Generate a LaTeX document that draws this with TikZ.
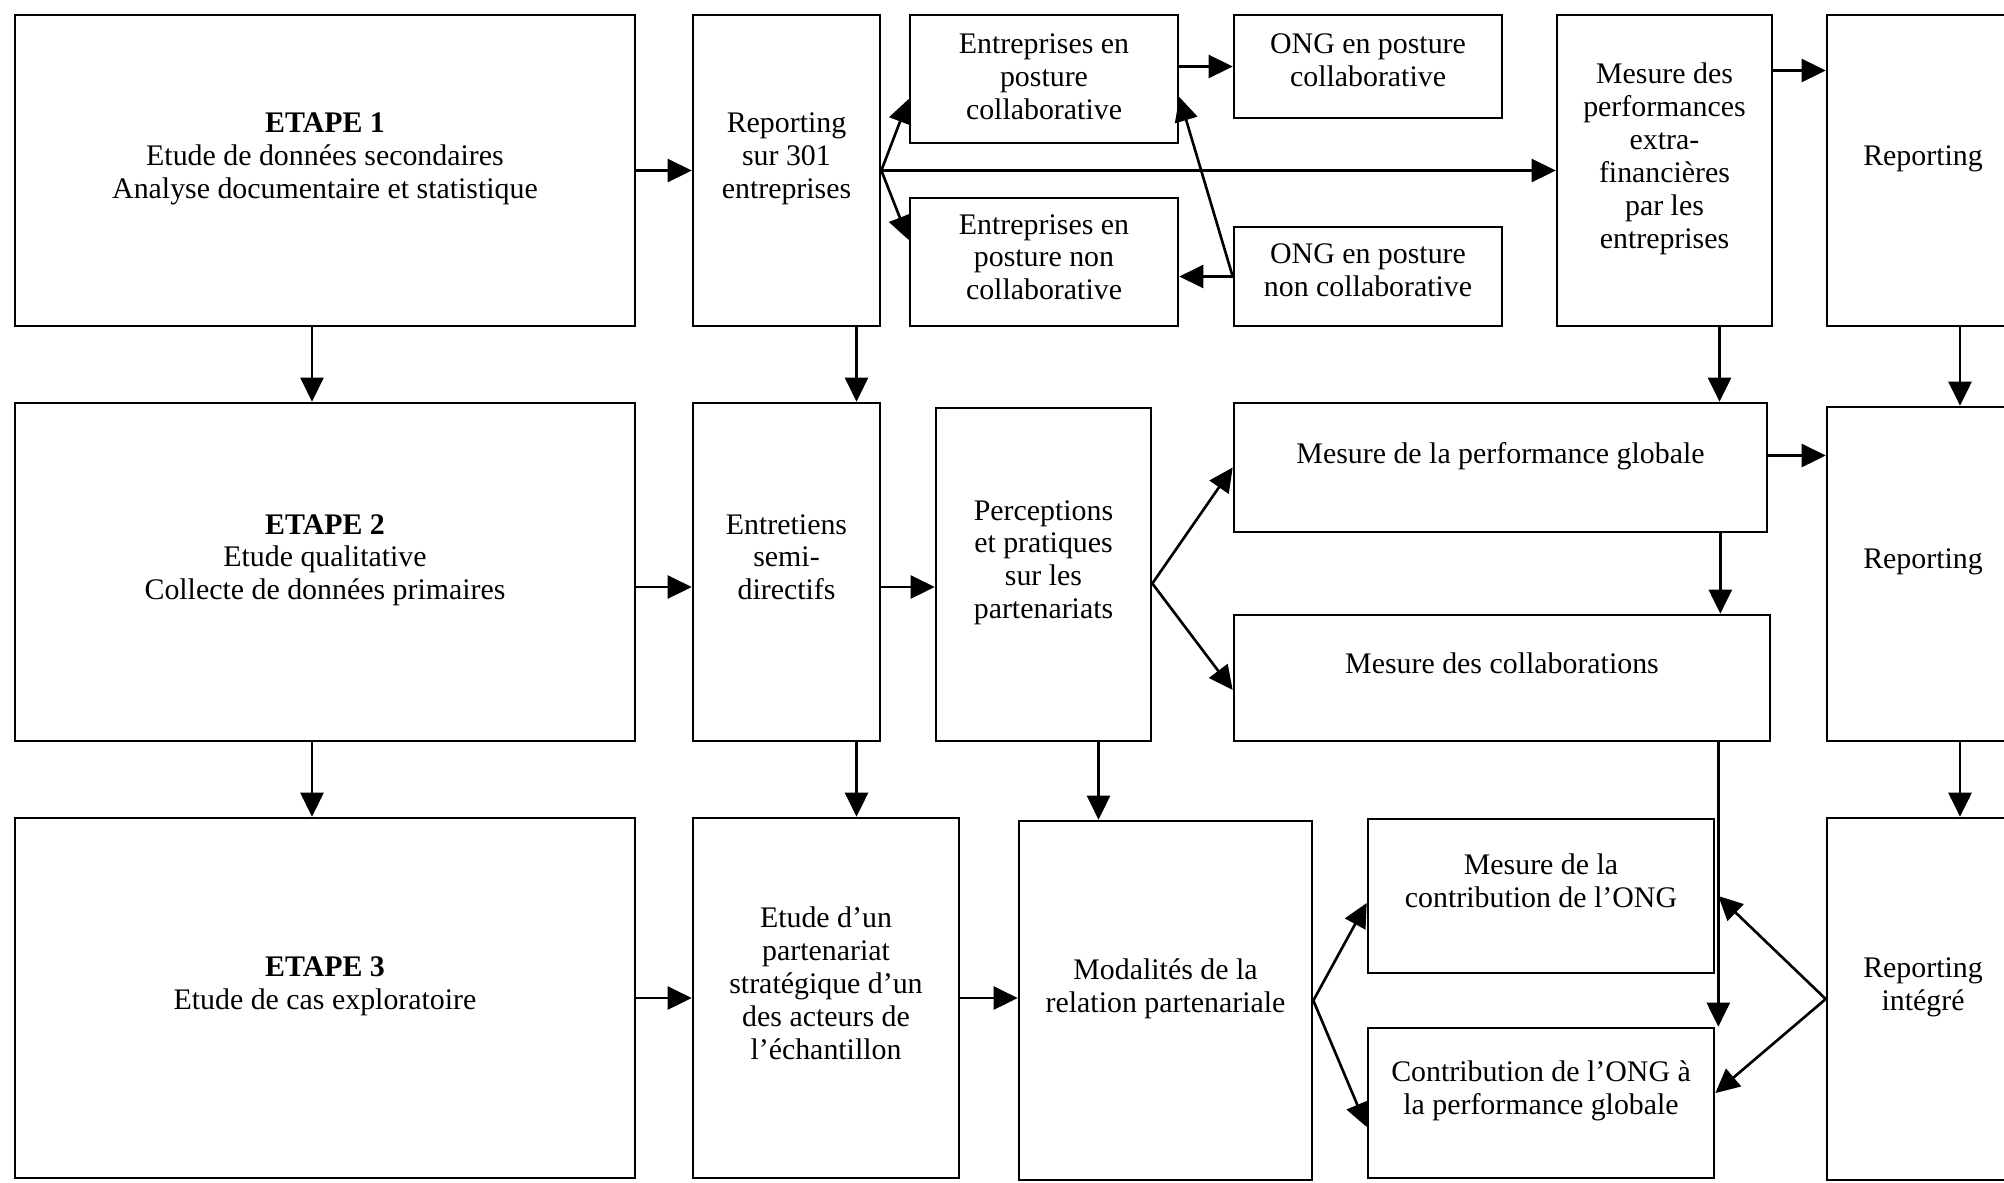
\documentclass[tikz,border=0pt]{standalone}
\usepackage{fontspec}
\setmainfont{Liberation Serif}
\usetikzlibrary{arrows.meta}

\tikzset{
  boite/.style={draw, line width=0.75pt, align=center, inner sep=0pt,
    font=\fontsize{8.5}{9.35}\selectfont, execute at end node={\rule[-#1]{0pt}{0pt}}},
  boite/.default=3mm,
  fleche/.style={line width=0.75pt, -{Triangle[length=2.4mm,width=2.3mm]}}
}

\begin{document}
\begin{tikzpicture}

        \useasboundingbox (0,0) rectangle (20.04,11.82);
        \clip (0,0) rectangle (20.04,11.82);

        % Etape 1
        \node[boite, minimum width=6.2cm, minimum height=3.11cm] (E1) at (3.25,10.115)
            {\textbf{ETAPE 1}\\Etude de données secondaires\\Analyse documentaire et statistique};
        \node[boite, minimum width=1.87cm, minimum height=3.11cm] (Rep301) at (7.865,10.115)
            {Reporting\\sur 301\\entreprises};
        \node[boite=0.5mm, minimum width=2.68cm, minimum height=1.28cm] (EntC) at (10.44,11.03)
            {Entreprises en\\posture\\collaborative};
        \node[boite=1mm, minimum width=2.68cm, minimum height=1.28cm] (EntNC) at (10.44,9.20)
            {Entreprises en\\posture non\\collaborative};
        \node[boite=1.2mm, minimum width=2.68cm, minimum height=1.03cm] (ONGC) at (13.68,11.155)
            {ONG en posture\\collaborative};
        \node[boite=1.2mm, minimum width=2.68cm, minimum height=0.99cm] (ONGNC) at (13.68,9.055)
            {ONG en posture\\non collaborative};
        \node[boite, minimum width=2.15cm, minimum height=3.11cm] (MesPerf) at (16.645,10.115)
            {Mesure des\\performances\\extra-\\financières\\par les\\entreprises};
        \node[boite, minimum width=1.92cm, minimum height=3.11cm] (Rep1) at (19.23,10.115)
            {Reporting};

        % Etape 2
        \node[boite, minimum width=6.2cm, minimum height=3.38cm] (E2) at (3.25,6.10)
            {\textbf{ETAPE 2}\\Etude qualitative\\Collecte de données primaires};
        \node[boite, minimum width=1.87cm, minimum height=3.38cm] (Entretiens) at (7.865,6.10)
            {Entretiens\\semi-\\directifs};
        \node[boite, minimum width=2.15cm, minimum height=3.33cm] (Perceptions) at (10.435,6.075)
            {Perceptions\\et pratiques\\sur les\\partenariats};
        \node[boite, minimum width=5.33cm, minimum height=1.29cm] (MesPG) at (15.005,7.145)
            {Mesure de la performance globale};
        \node[boite, minimum width=5.36cm, minimum height=1.26cm] (MesColl) at (15.02,5.04)
            {Mesure des collaborations};
        \node[boite, minimum width=1.92cm, minimum height=3.34cm] (Rep2) at (19.23,6.08)
            {Reporting};

        % Etape 3
        \node[boite, minimum width=6.2cm, minimum height=3.60cm] (E3) at (3.25,1.84)
            {\textbf{ETAPE 3}\\Etude de cas exploratoire};
        \node[boite, minimum width=2.66cm, minimum height=3.60cm] (Etude) at (8.26,1.84)
            {Etude d’un\\partenariat\\stratégique d’un\\des acteurs de\\l’échantillon};
        \node[boite, minimum width=2.93cm, minimum height=3.59cm] (Modalites) at (11.655,1.815)
            {Modalités de la\\relation partenariale};
        \node[boite, minimum width=3.46cm, minimum height=1.54cm] (MesContrib) at (15.41,2.86)
            {Mesure de la\\contribution de l’ONG};
        \node[boite, minimum width=3.46cm, minimum height=1.50cm] (Contrib) at (15.41,0.79)
            {Contribution de l’ONG à\\la performance globale};
        \node[boite, minimum width=1.92cm, minimum height=3.62cm] (Rep3) at (19.23,1.83)
            {Reporting\\intégré};

        % fleches etape 1
        \draw[fleche] (E1) -- (Rep301);
        \draw[fleche] (Rep301.east) -- ([yshift=-2mm]EntC.west);
        \draw[fleche] (Rep301.east) -- ([yshift=2.2mm]EntNC.west);
        \draw[fleche] (Rep301) -- (MesPerf);
        \draw[fleche] (EntC.east |- ONGC.west) -- (ONGC.west);
        \draw[fleche] (ONGNC.west) -- (ONGNC.west -| EntNC.east);
        \draw[fleche] (ONGNC.west) -- ([yshift=-1.8mm]EntC.east);
        \draw[fleche] ([yshift=10mm]MesPerf.east) -- ([yshift=10mm]MesPerf.east -| Rep1.west);

        % fleches vers etape 2
        \draw[fleche] ([xshift=-1.3mm]E1.south) -- ([xshift=-1.3mm]E2.north);
        \draw[fleche] ([xshift=7mm]Rep301.south) -- ([xshift=7mm]Entretiens.north);
        \draw[fleche] ([xshift=5.5mm]MesPerf.south) -- ([xshift=5.5mm]MesPerf.south |- MesPG.north);
        \draw[fleche] ([xshift=3.7mm]Rep1.south) -- ([xshift=3.7mm]Rep2.north);

        % fleches etape 2
        \draw[fleche] ([yshift=-1.5mm]E2.east) -- ([yshift=-1.5mm]Entretiens.west);
        \draw[fleche] ([yshift=-1.5mm]Entretiens.east) -- ([yshift=-1.5mm]Entretiens.east -| Perceptions.west);
        \draw[fleche] ([yshift=-0.9mm]Perceptions.east) -- (MesPG.west);
        \draw[fleche] ([yshift=-0.9mm]Perceptions.east) -- ([yshift=-1.2mm]MesColl.west);
        \draw[fleche] ([yshift=1.2mm]MesPG.east) -- ([yshift=1.2mm]MesPG.east -| Rep2.west);
        \draw[fleche] ([xshift=-4.8mm]MesPG.south east) -- ([xshift=-4.8mm]MesPG.south east |- MesColl.north);

        % fleches vers etape 3
        \draw[fleche] ([xshift=-1.3mm]E2.south) -- ([xshift=-1.3mm]E3.north);
        \draw[fleche] ([xshift=7mm]Entretiens.south) -- ([xshift=7mm]Entretiens.south |- Etude.north);
        \draw[fleche] ([xshift=5.5mm]Perceptions.south) -- ([xshift=5.5mm]Perceptions.south |- Modalites.north);
        \draw[fleche] ([xshift=-5.3mm]MesColl.south east) -- ([xshift=-5.3mm]MesColl.south east |- Contrib.north);
        \draw[fleche] ([xshift=3.7mm]Rep2.south) -- ([xshift=3.7mm]Rep3.north);

        % fleches etape 3
        \draw[fleche] (E3) -- (Etude);
        \draw[fleche] (Etude.east) -- (Etude.east -| Modalites.west);
        \draw[fleche] (Modalites.east) -- ([yshift=-0.7mm]MesContrib.west);
        \draw[fleche] (Modalites.east) -- ([yshift=-2.4mm]Contrib.west);
        \draw[fleche] (Rep3.west) -- ([xshift=0.3mm]MesContrib.east);
        \draw[fleche] (Rep3.west) -- ([yshift=1mm]Contrib.east);

\end{tikzpicture}
\end{document}
